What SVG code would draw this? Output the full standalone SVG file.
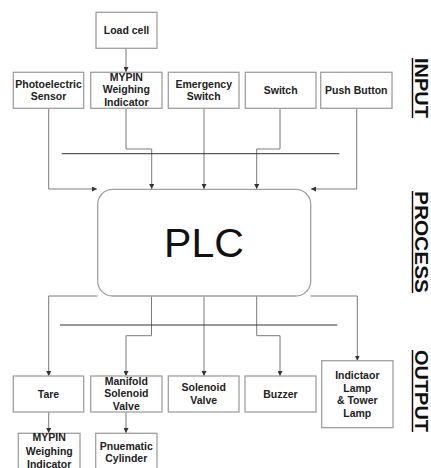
<svg xmlns="http://www.w3.org/2000/svg" width="431" height="468" viewBox="0 0 431 468">
<style>
.box{fill:#fff;stroke:#a0a0a0;stroke-width:1.3}
.t{font-family:"Liberation Sans",Arial,sans-serif;font-weight:bold;font-size:10.5px;fill:#222;text-anchor:middle}
.c{fill:none;stroke:#7a7a7a;stroke-width:1}
.bus{fill:none;stroke:#333;stroke-width:1}
.lbl{font-family:"Liberation Sans",Arial,sans-serif;font-weight:bold;font-size:17.5px;fill:#111}
</style>
<defs>
<marker id="a" viewBox="0 0 6 6" refX="6" refY="3" markerWidth="5" markerHeight="5" orient="auto" markerUnits="userSpaceOnUse">
<path d="M0,0 L6,3 L0,6 Z" fill="#333"/>
</marker>
</defs>
<g id="connectors">
<path class="c" d="M126,48.5 V72" marker-end="url(#a)"/>
<path class="c" d="M48.7,108.5 V189 H97" marker-end="url(#a)"/>
<path class="c" d="M126,108.5 V149 H151.7 V189" marker-end="url(#a)"/>
<path class="c" d="M204,108.5 V189" marker-end="url(#a)"/>
<path class="c" d="M280,108.5 V149 H256.7 V189" marker-end="url(#a)"/>
<path class="c" d="M356.7,108.5 V189 H311" marker-end="url(#a)"/>
<path class="bus" d="M61.7,153.7 H339.3"/>
<path class="c" d="M97.5,296 H48.7 V376" marker-end="url(#a)"/>
<path class="c" d="M151.5,296 V335.7 H126 V376" marker-end="url(#a)"/>
<path class="c" d="M204,296 V376" marker-end="url(#a)"/>
<path class="c" d="M256.7,296 V335.7 H280 V376" marker-end="url(#a)"/>
<path class="c" d="M310.5,296 H357.3 V360.7" marker-end="url(#a)"/>
<path class="bus" d="M60,325 H337.3"/>
<path class="c" d="M48.7,412 V433" marker-end="url(#a)"/>
<path class="c" d="M126,412 V433" marker-end="url(#a)"/>
</g>
<g id="loadcell"><rect class="box" x="96" y="12.3" width="61" height="36"/><text class="t" x="126.5" y="34">Load cell</text></g>
<g id="photo"><rect class="box" x="13.3" y="72.3" width="70.4" height="36"/><text class="t" x="48.5" y="87.5">Photoelectric</text><text class="t" x="48.5" y="100">Sensor</text></g>
<g id="mypin1"><rect class="box" x="90.7" y="72.3" width="71.3" height="36"/><text class="t" x="126.3" y="80.5">MYPIN</text><text class="t" x="126.3" y="93">Weighing</text><text class="t" x="126.3" y="105.5">Indicator</text></g>
<g id="emergency"><rect class="box" x="168.3" y="72.3" width="70.7" height="36"/><text class="t" x="203.7" y="87.5">Emergency</text><text class="t" x="203.7" y="100">Switch</text></g>
<g id="switch"><rect class="box" x="245.3" y="72.3" width="70.7" height="36"/><text class="t" x="280.7" y="94">Switch</text></g>
<g id="push"><rect class="box" x="320.7" y="72.3" width="71.3" height="36"/><text class="t" x="356.3" y="94">Push Button</text></g>
<g id="plc"><rect x="97.7" y="189.3" width="213" height="106.7" rx="15" ry="15" fill="#fff" stroke="#a0a0a0" stroke-width="1.3"/><text x="204" y="256.7" font-family="'Liberation Sans',Arial,sans-serif" font-size="41" text-anchor="middle" fill="#111">PLC</text></g>
<g id="tare"><rect class="box" x="13.3" y="376" width="70.4" height="36"/><text class="t" x="48.5" y="397.5">Tare</text></g>
<g id="manifold"><rect class="box" x="90.7" y="376" width="71.3" height="36"/><text class="t" x="126.3" y="384.5">Manifold</text><text class="t" x="126.3" y="397">Solenoid</text><text class="t" x="126.3" y="409.5">Valve</text></g>
<g id="solenoid"><rect class="box" x="168.3" y="376" width="70.7" height="36"/><text class="t" x="203.7" y="391">Solenoid</text><text class="t" x="203.7" y="403.5">Valve</text></g>
<g id="buzzer"><rect class="box" x="245" y="376" width="71" height="36"/><text class="t" x="280.5" y="397.5">Buzzer</text></g>
<g id="indicator"><rect class="box" x="321.7" y="360.7" width="71.3" height="67"/><text class="t" x="357.3" y="378.5">Indictaor</text><text class="t" x="357.3" y="391.5">Lamp</text><text class="t" x="357.3" y="404">&amp; Tower</text><text class="t" x="357.3" y="417">Lamp</text></g>
<g id="mypin2"><rect class="box" x="18.3" y="433.3" width="61.7" height="40"/><text class="t" x="49.2" y="441">MYPIN</text><text class="t" x="49.2" y="455">Weighing</text><text class="t" x="49.2" y="467.5">Indicator</text></g>
<g id="pneumatic"><rect class="box" x="95.7" y="433.3" width="61.3" height="40"/><text class="t" x="126.3" y="449.5">Pnuematic</text><text class="t" x="126.3" y="462">Cylinder</text></g>
<g id="labels">
<text class="lbl" transform="translate(414.5,58) rotate(90)" textLength="60" lengthAdjust="spacingAndGlyphs">INPUT</text>
<path d="M412.5,58 V118" stroke="#111" stroke-width="1.5"/>
<text class="lbl" transform="translate(414.5,191) rotate(90)" textLength="102" lengthAdjust="spacingAndGlyphs">PROCESS</text>
<path d="M412.5,191 V293" stroke="#111" stroke-width="1.5"/>
<text class="lbl" transform="translate(414.5,350) rotate(90)" textLength="82" lengthAdjust="spacingAndGlyphs">OUTPUT</text>
<path d="M412.5,350 V432" stroke="#111" stroke-width="1.5"/>
</g>
</svg>
